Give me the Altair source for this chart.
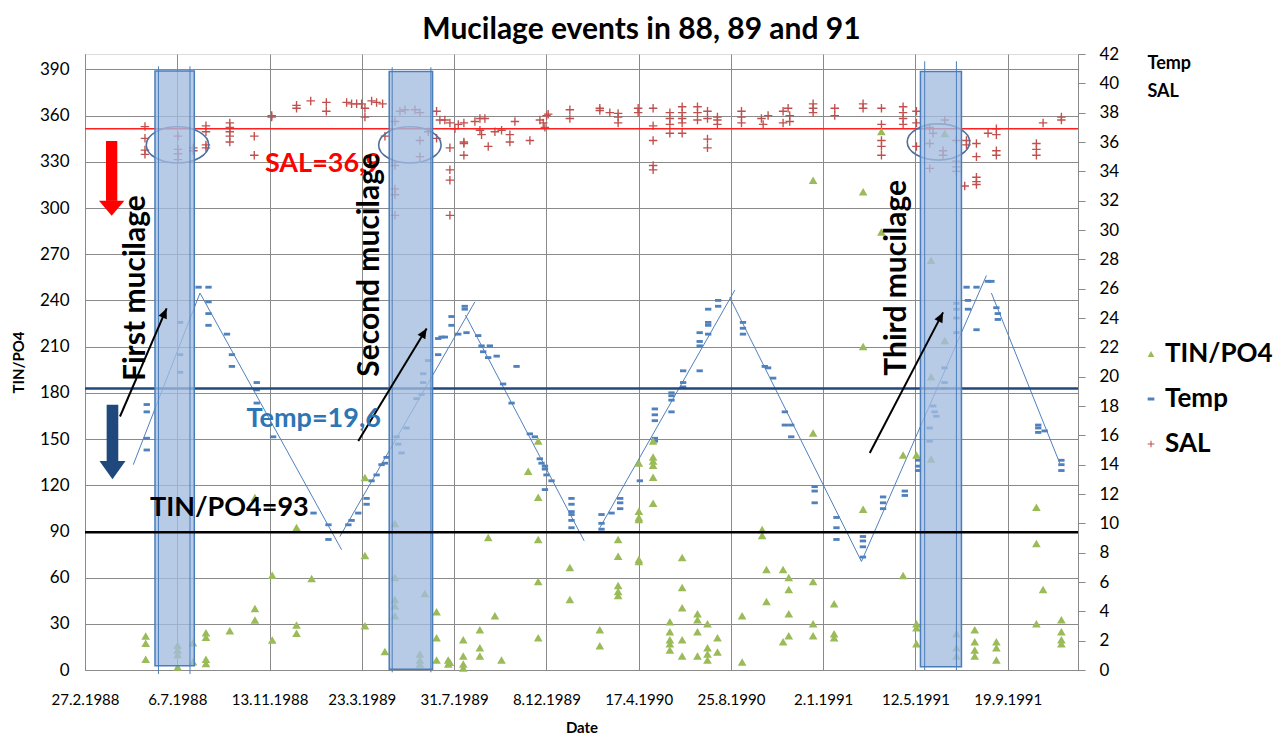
import altair as alt
import pandas as pd

# ---------------- data (x = days after 27.2.1988) ----------------
x_tick_days = [0, 130, 260, 390, 520, 650, 780, 910, 1040, 1170, 1300]
x_tick_labels = ["27.2.1988", "6.7.1988", "13.11.1988", "23.3.1989", "31.7.1989",
                 "8.12.1989", "17.4.1990", "25.8.1990", "2.1.1991", "12.5.1991", "19.9.1991"]
x_domain = [0, 1399]
left_domain = [0, 400]
right_domain = [0, 42]
series_names = ["TIN/PO4", "Temp", "SAL"]
series_colors = ["#9bbb59", "#4f81bd", "#c0504d"]

tin_groups = [
    (85.5, [22.0, 17.3, 6.9]), (130.5, [16, 13, 10, 2]), (152, [17.7, 5.4]),
    (170.4, [24.2, 21.2, 6.9, 4.3]), (204, [25.5]), (239.4, [112, 40, 32.4]),
    (263.8, [61.6, 19.4]), (298, [92.6, 29.2, 23.8]), (319.3, [59.4]),
    (394.4, [125, 74.4, 28.7]), (422.5, [12]), (436.6, [95.2, 60, 45.7, 41.7, 35.2]),
    (471.8, [10.4, 6.5, 3.9]), (478.9, [49.6]), (495.3, [37.8, 20.9, 6.5]),
    (511.7, [6.5, 3.9]), (514, [5]), (532.9, [19.6, 9.1, 3.9, 1.3]),
    (556.3, [26.1, 14.4, 9.1]), (568.1, [86.1]), (577.5, [35.2]), (586.8, [6.5]),
    (624.4, [129.1]), (638.5, [148.7, 112.2, 84.8, 57.4, 20.9]), (683.1, [66.5, 45.7]),
    (725.3, [26.1, 15.7]), (751.1, [84.8, 73.8, 54.8, 50.9, 48.3]),
    (780.3, [134.4, 103.1, 99.1, 97.8, 71.7, 70.4]),
    (800.4, [148.7, 138.3, 135.7, 133, 125.2, 108.3]),
    (824, [31.3, 24.8, 19.6, 17.0, 13.0]), (841.3, [73.1, 53.5, 40.4, 19.6, 9.1]),
    (862.9, [36.5, 32.6, 24.8, 9.1]), (877, [30, 14.4, 10.4, 6.5]), (891.1, [20.9, 11.7]),
    (925.8, [35.2, 5.2]), (954, [91.3, 87.4]), (960.1, [65.2, 44.4]), (983.5, [65.2, 18.3]),
    (991.5, [60, 52.2, 36.5, 22.2]), (1025.8, [318, 153.9, 57.4, 30, 22.2]),
    (1055.4, [43, 23.5, 20.9]), (1096.3, [310.5, 210, 104.4]), (1122, [349.6, 284.4]),
    (1152.6, [139.6, 61.3]), (1171.4, [139.6, 30, 27.4, 17]), (1192, [266.1, 190.5, 137]),
    (1211.3, [348.3, 214]), (1227.7, [23.5, 14.4, 9.1]), (1253.5, [26.1, 18.3, 13, 9.1]),
    (1284, [18.3, 14.4, 6.5]), (1340.4, [105.7, 82.2, 30]), (1349.8, [52.2]),
    (1375.6, [32.6, 24.8, 19.6, 17]),
]

temp_groups = [
    (87, [18.1, 17.6, 15.8, 15.0]), (134, [23.7, 21.5, 20.3]), (160, [26.1]),
    (174, [26.1, 25.1, 24.3, 23.5]), (200, [22.9]), (207, [21.5, 20.7]),
    (242, [19.6, 19.1, 18.2]), (265, [15.9]), (322, [10.7]), (343, [9.9, 8.9]),
    (371, [9.9]), (375.6, [10.2]), (385, [10.7]), (396.7, [11.7, 11.3]), (403.7, [12.9]),
    (410.8, [13.3]), (417.8, [14.0]), (422.5, [14.1]), (424.9, [14.5]), (439, [15.9]),
    (441.3, [15.4]), (446, [14.8]), (453, [16.5]), (467, [18.5]), (474, [18.8]),
    (476.5, [19.6, 20.2]), (483.5, [21.1]), (497.6, [21.5, 22.6]), (502.4, [22.7]),
    (507, [22.7]), (516.4, [24.1, 23.5]), (525.8, [22.9]), (535, [24.8, 24.6]),
    (537.5, [23.0]), (554, [22.8]), (558.7, [22.1]), (561, [21.7]), (568, [21.3]),
    (570.4, [22.1]), (580, [21.4]), (589, [19.5]), (601, [18.2]), (608, [20.7]),
    (626.7, [16.1]), (633.8, [15.9]), (640.8, [14.4]), (643.2, [14.1]),
    (648, [13.9, 13.7, 12.3]), (650.2, [13.3]), (657.3, [12.9]),
    (685.4, [11.7, 11.3, 10.8, 10.6, 10.2, 9.7]),
    (727.7, [10.6, 10.0, 9.6]), (741.8, [10.7]), (754, [11.7, 11.4, 11.0]), (781.7, [12.9]),
    (802.8, [15.8, 15.6, 17.8, 17.4, 17.0]), (826.3, [18.4, 18.7, 17.6, 18.9]),
    (842.7, [20.4, 19.6, 19.3]), (866, [20.4, 22.1, 22.4, 23.0]),
    (878, [24.6, 23.7, 23.5, 22.9]), (892, [25.2, 24.8]), (927, [23.7, 23.3, 22.9]),
    (957.7, [20.7]), (962.4, [20.6]), (969.5, [19.9]), (986, [17.6, 16.7]),
    (995, [16.7, 15.9]), (1028, [12.5, 12.2, 11.4]), (1058.7, [10.4, 9.7, 8.9]),
    (1096, [9.1, 8.8, 8.4, 7.7]), (1124.4, [11.8, 11.4, 11.0]), (1155, [12.2, 11.9]),
    (1173.7, [14.3, 13.9, 13.6]), (1190, [16.5, 15.6]), (1195, [18.0]), (1197, [17.6]),
    (1199.5, [17.3]), (1211, [20.6, 19.6, 19.2]), (1227.7, [25.0, 24.6, 24.0, 23.0]),
    (1242, [26.1]), (1244, [25.2, 24.6]), (1256, [26.1, 23.2]), (1272, [26.5]),
    (1277, [26.5]), (1284, [24.7]), (1286, [24.3, 23.9]), (1343, [16.7, 16.5, 16.2]),
    (1352, [16.3]), (1375.6, [14.3, 14.0, 13.6]),
]

sal_groups = [
    (84.5, [37.05, 36.25, 35.45, 35.16]), (131, [36.4, 35.5, 35.2, 34.8]),
    (152.6, [35.6, 35.4]), (170.4, [37.1, 36.7, 35.8, 35.6]),
    (204, [37.3, 37.0, 36.7, 36.4, 36.0]), (238.5, [36.4, 35.1]), (263, [37.8, 37.7]),
    (298, [38.5, 38.3]), (318, [38.8]), (340, [38.7, 38.1]),
    (368.6, [38.7]), (375.6, [38.6]), (382.7, [38.6]), (389.7, [38.6]),
    (394.4, [38.3, 37.7]), (403.8, [38.8]), (410.8, [38.7]), (419.3, [38.6]),
    (422.6, [36.4]), (436.7, [37.4, 34.4, 32.8, 32.4, 31.0]), (443.7, [38.1]),
    (450.8, [38.2]), (464.8, [38.2]), (471.9, [38.0, 36.1, 35.0]), (483.6, [36.7]),
    (495.3, [38.1, 36.25]), (500, [37.5]), (507, [37.5]),
    (514.1, [37.3, 35.6, 34.1, 33.4, 31.0]), (521.2, [36.9]), (525.9, [37.2]),
    (533.8, [37.3, 36.0, 35.9, 35.1]), (549.3, [37.4]), (556.4, [37.6, 36.8]),
    (558.7, [36.5]), (563.4, [37.6]), (568.1, [35.7]), (577.5, [36.7]), (586.9, [36.8]),
    (598.6, [36.5, 36.0]), (605.7, [37.4]), (626.8, [36.1]), (640.9, [37.5]),
    (645.6, [37.3]), (647.9, [37.0]), (650.3, [37.8]), (652.6, [37.9]),
    (683.1, [38.2, 37.6]),
    (725.3, [38.3, 38.15]), (739.4, [38.0]), (751.1, [37.95, 37.7, 37.3]),
    (779.3, [38.3, 38.0]), (800.4, [38.3, 37.1, 36.1, 34.4, 34.1]),
    (824, [38.0, 37.6, 37.2, 36.6]), (841.3, [38.4, 38.0, 37.6, 37.3, 36.6]),
    (862.9, [38.4, 38.0, 37.5]), (877, [38.1, 37.6, 36.2, 35.6]), (891, [37.7, 37.5, 37.2]),
    (924.9, [38.1, 37.7, 37.3]), (953, [37.6]), (955.4, [37.2]), (962.4, [37.8]),
    (983.5, [38.1, 37.3]), (990.6, [38.3]), (992.9, [37.8, 37.4]),
    (1025.8, [38.6, 38.3, 38.0]), (1056.3, [38.3, 37.8]),
    (1096.2, [38.6, 38.3]), (1122.1, [38.3, 37.2, 36.1, 35.7, 35.1]),
    (1152.6, [38.4, 38.0, 37.6, 37.2]), (1171.4, [38.1, 37.3, 35.7]),
    (1190.1, [37.0, 35.9, 34.2]), (1194.8, [36.6]), (1208.9, [35.4, 35.1]),
    (1211.3, [37.5]), (1227.7, [36.1, 34.7, 34.3, 34.0]), (1239.4, [33.0]),
    (1241.8, [36.1, 35.8]), (1255.9, [35.9, 35.0, 33.6, 33.3, 33.1]), (1272.3, [36.6]),
    (1284, [36.9, 36.5, 35.4, 35.1]), (1340.4, [35.9, 35.5, 35.1]), (1349.8, [37.3]),
    (1375.6, [37.7, 37.5]),
]

# hand-drawn temperature trend segments: (start day, start temp, end day, end temp)
trend_segments = [
    (68, 14.0, 162, 25.7), (162, 25.7, 361.5, 8.2), (359.1, 9.1, 549.3, 25.1),
    (536, 24.2, 703.3, 8.8), (725.3, 9.7, 915.5, 25.9), (908.4, 25.4, 1093.9, 7.4),
    (1093.9, 7.4, 1270, 26.9), (1277, 25.7, 1373.3, 14.1),
]

# reference lines
sal_ref = 36.9
temp_ref = 19.2
tin_ref = 89.5

# mucilage periods (day start, day end, TIN/PO4 bottom, top)
mucilage_boxes = [(98.6, 154, 2.8, 389), (428.6, 489.7, 0.5, 388.7), (1177, 1234.8, 2.1, 388.7)]
mucilage_edges = [(103.5, -2.6, 392), (147.9, -2.6, 392), (432.8, -1.5, 391.4),
                  (487.3, -1.5, 391.4), (1183, 0, 395.3), (1227.7, 0, 395.3)]
# SAL ellipses (centre day, centre SAL)
sal_circles = [(130.3, 35.8), (457.7, 35.8), (1202.4, 36.0)]
# arrows (start day, start TIN/PO4, end day, end TIN/PO4, angle)
arrows = [(49.3, 164.6, 115, 234.8, 23.3), (385, 148.7, 481.3, 221.8, 31.2),
          (1105.6, 140.9, 1208.9, 232.2, 27.5)]

labels_flat = [("SAL=36,9", 253.5, 328.6, "#ff0000"), ("Temp=19,6", 227.7, 163, "#2e75b6"),
               ("TIN/PO4=93", 91.5, 105, "#000000")]
labels_vert = [("First mucilage", 71.8, 248), ("Second mucilage", 401.4, 263),
               ("Third mucilage", 1143.7, 254.7)]


def flatten(groups, name):
    rows = [(d, v) for d, vals in groups for v in vals]
    return pd.DataFrame({"day": [r[0] for r in rows], "v": [r[1] for r in rows], "series": name})


tin_df = flatten(tin_groups, "TIN/PO4")
temp_df = flatten(temp_groups, "Temp")
sal_df = flatten(sal_groups, "SAL")
trend_df = pd.DataFrame(
    [{"seg": i, "day": s[0], "v": s[1]} for i, s in enumerate(trend_segments)]
    + [{"seg": i, "day": s[2], "v": s[3]} for i, s in enumerate(trend_segments)])
box_df = pd.DataFrame(mucilage_boxes, columns=["d0", "d1", "v0", "v1"])
edge_df = pd.DataFrame(mucilage_edges, columns=["day", "v0", "v1"])
circ_df = pd.DataFrame(sal_circles, columns=["day", "v"])
arr_line_df = pd.DataFrame(
    [{"a": i, "day": a[0], "v": a[1]} for i, a in enumerate(arrows)]
    + [{"a": i, "day": a[2], "v": a[3]} for i, a in enumerate(arrows)])
arr_head_df = pd.DataFrame([{"day": a[2], "v": a[3], "ang": a[4]} for a in arrows])
flat_df = pd.DataFrame(labels_flat, columns=["txt", "day", "v", "col"])
vert_df = pd.DataFrame(labels_vert, columns=["txt", "day", "v"])

FONT = "Lato"
GRID = "#8a8a8a"

# ---------------- encodings ----------------
x_axis = alt.Axis(values=x_tick_days, labelExpr="%s[round(datum.value/130)]" % str(x_tick_labels),
                  grid=True, gridColor=GRID, gridWidth=1, ticks=False, tickSize=0,
                  domainColor=GRID, labelFont=FONT, labelFontSize=15, labelColor="#000",
                  labelPadding=22, labelOverlap=False, labelFlush=False, title="Date",
                  titleFont=FONT, titleFontSize=15, titleFontWeight="bold", titleY=57,
                  titleBaseline="middle")
left_axis = alt.Axis(orient="left", values=list(range(0, 391, 30)), grid=True, gridColor=GRID,
                     ticks=False, tickSize=0, domainColor=GRID, labelFont=FONT, labelFontSize=17,
                     labelColor="#000", labelPadding=16, title="TIN/PO4", titleFont=FONT,
                     titleFontSize=15, titleFontWeight="bold", titlePadding=13,
                     titleColor="#000")
right_axis = alt.Axis(orient="right", values=list(range(0, 43, 2)), grid=False, ticks=True,
                      tickSize=7, tickColor=GRID, domainColor=GRID, labelFont=FONT,
                      labelFontSize=17, labelColor="#000", labelPadding=14,
                      title=["Temp", "SAL"], titleFont=FONT, titleFontSize=18,
                      titleFontWeight="bold", titleAngle=0, titleX=69, titleY=9,
                      titleAlign="left", titleBaseline="middle", titleLineHeight=28)
xs = alt.Scale(domain=x_domain, nice=False, zero=False)
ls = alt.Scale(domain=left_domain, nice=False)
rs = alt.Scale(domain=right_domain, nice=False)


def X(f):
    return alt.X(f, type="quantitative", scale=xs, axis=x_axis)


def YL(f):
    return alt.Y(f, type="quantitative", scale=ls, axis=left_axis)


def YR(f):
    return alt.Y(f, type="quantitative", scale=rs, axis=right_axis)


DASH = "M-1,-0.45 L1,-0.45 L1,0.45 L-1,0.45 Z"
PLUS = ("M-1,-0.16 L-0.16,-0.16 L-0.16,-1 L0.16,-1 L0.16,-0.16 L1,-0.16 L1,0.16 "
        "L0.16,0.16 L0.16,1 L-0.16,1 L-0.16,0.16 L-1,0.16 Z")
ELLIPSE = ("M-1,0 C-1,-0.32 -0.552,-0.58 0,-0.58 C0.552,-0.58 1,-0.32 1,0 "
           "C1,0.32 0.552,0.58 0,0.58 C-0.552,0.58 -1,0.32 -1,0 Z")
HEAD = "M0,0 L-0.45,1 L0.45,1 Z"
RED_HEAD = "M0,0 L-1,-1.18 L1,-1.18 Z"
BLUE_HEAD = "M0,0 L-1,-1.4 L1,-1.4 Z"

legend = alt.Legend(title=None, orient="none", legendX=1053, legendY=287, labelFont=FONT,
                    labelFontSize=26, labelFontWeight="bold", labelColor="#000",
                    symbolSize=45, rowPadding=19, labelOffset=1, padding=0)
color_enc = alt.Color("series:N", scale=alt.Scale(domain=series_names, range=series_colors),
                      legend=legend)
shape_enc = alt.Shape("series:N", scale=alt.Scale(domain=series_names,
                                                  range=["triangle-up", DASH, PLUS]),
                      legend=legend)

# ---------------- left (TIN/PO4) group ----------------
tin_pts = alt.Chart(tin_df).mark_point(filled=True, size=75, opacity=1).encode(
    x=X("day"), y=YL("v"), color=color_enc, shape=shape_enc)
tin_rule = alt.Chart(pd.DataFrame({"v": [tin_ref]})).mark_rule(
    color="#000", strokeWidth=2.5).encode(y=YL("v"))
boxes = alt.Chart(box_df).mark_rect(fill="#a3bde0", fillOpacity=0.78, stroke="#4a7ebb",
                                    strokeWidth=1.5).encode(
    x=X("d0"), x2="d1", y=YL("v0"), y2="v1")
edges = alt.Chart(edge_df).mark_rule(color="#4a7ebb", strokeWidth=1).encode(
    x=X("day"), y=YL("v0"), y2="v1")
arr_lines = alt.Chart(arr_line_df).mark_line(color="#000", strokeWidth=2).encode(
    x=X("day"), y=YL("v"), detail="a:N")
arr_heads = alt.Chart(arr_head_df).mark_point(shape=HEAD, filled=True, size=400, color="#000",
                                              opacity=1).encode(
    x=X("day"), y=YL("v"), angle=alt.Angle("ang:Q", scale=None))
red_shaft = alt.Chart(pd.DataFrame({"d0": [29.6], "d1": [45.5], "v0": [304.6], "v1": [343.5]})
                      ).mark_rect(color="#ff0000").encode(x=X("d0"), x2="d1", y=YL("v0"), y2="v1")
red_head = alt.Chart(pd.DataFrame({"day": [37.6], "v": [294.9]})).mark_point(
    shape=RED_HEAD, filled=True, size=645, color="#ff0000", opacity=1).encode(
    x=X("day"), y=YL("v"))
blue_shaft = alt.Chart(pd.DataFrame({"d0": [30.5], "d1": [46.9], "v0": [135.7], "v1": [172.2]})
                       ).mark_rect(color="#1f497d").encode(x=X("d0"), x2="d1", y=YL("v0"), y2="v1")
blue_head = alt.Chart(pd.DataFrame({"day": [38.7], "v": [123.9]})).mark_point(
    shape=BLUE_HEAD, filled=True, size=676, color="#1f497d", opacity=1).encode(
    x=X("day"), y=YL("v"))
flat_text = alt.Chart(flat_df).mark_text(font=FONT, fontSize=27, fontWeight="bold",
                                         align="left", baseline="middle").encode(
    x=X("day"), y=YL("v"), text="txt:N", color=alt.Color("col:N", scale=None))
vert_text = alt.Chart(vert_df).mark_text(font=FONT, fontSize=30, fontWeight="bold",
                                         align="center", baseline="middle", angle=270,
                                         color="#000").encode(
    x=X("day"), y=YL("v"), text="txt:N")

left_group = alt.layer(tin_pts, boxes, edges, tin_rule, red_shaft, red_head, blue_shaft,
                       blue_head, arr_lines, arr_heads, flat_text, vert_text)

# ---------------- right (Temp / SAL) group ----------------
sal_pts = alt.Chart(sal_df).mark_point(filled=True, size=72, opacity=1).encode(
    x=X("day"), y=YR("v"), color=color_enc, shape=shape_enc)
temp_pts = alt.Chart(temp_df).mark_point(filled=True, size=40, opacity=1).encode(
    x=X("day"), y=YR("v"), color=color_enc, shape=shape_enc)
trend = alt.Chart(trend_df).mark_line(color="#4f81bd", strokeWidth=1).encode(
    x=X("day"), y=YR("v"), detail="seg:N")
sal_rule = alt.Chart(pd.DataFrame({"v": [sal_ref]})).mark_rule(
    color="#ff2020", strokeWidth=1.5).encode(y=YR("v"))
temp_rule = alt.Chart(pd.DataFrame({"v": [temp_ref]})).mark_rule(
    color="#1f497d", strokeWidth=2.5).encode(y=YR("v"))
circles = alt.Chart(circ_df).mark_point(shape=ELLIPSE, size=3900, filled=False,
                                        color="#4f6f9f", strokeWidth=1.6, opacity=1).encode(
    x=X("day"), y=YR("v"))

right_group = alt.layer(sal_pts, temp_pts, trend, sal_rule, temp_rule, circles)

chart = alt.layer(right_group, left_group).resolve_scale(y="independent").properties(
    width=993, height=616,
    title=alt.TitleParams("Mucilage events in 88, 89 and 91", font=FONT, fontSize=30,
                          fontWeight="bold", color="#000", anchor="middle", dx=60, offset=0),
    autosize=alt.AutoSizeParams(type="none"),
    padding={"left": 77, "top": 46, "right": 202, "bottom": 66},
).configure_view(stroke=None).configure(background="white")

chart.save("out.html", embed_options={"renderer": "svg", "actions": False})
